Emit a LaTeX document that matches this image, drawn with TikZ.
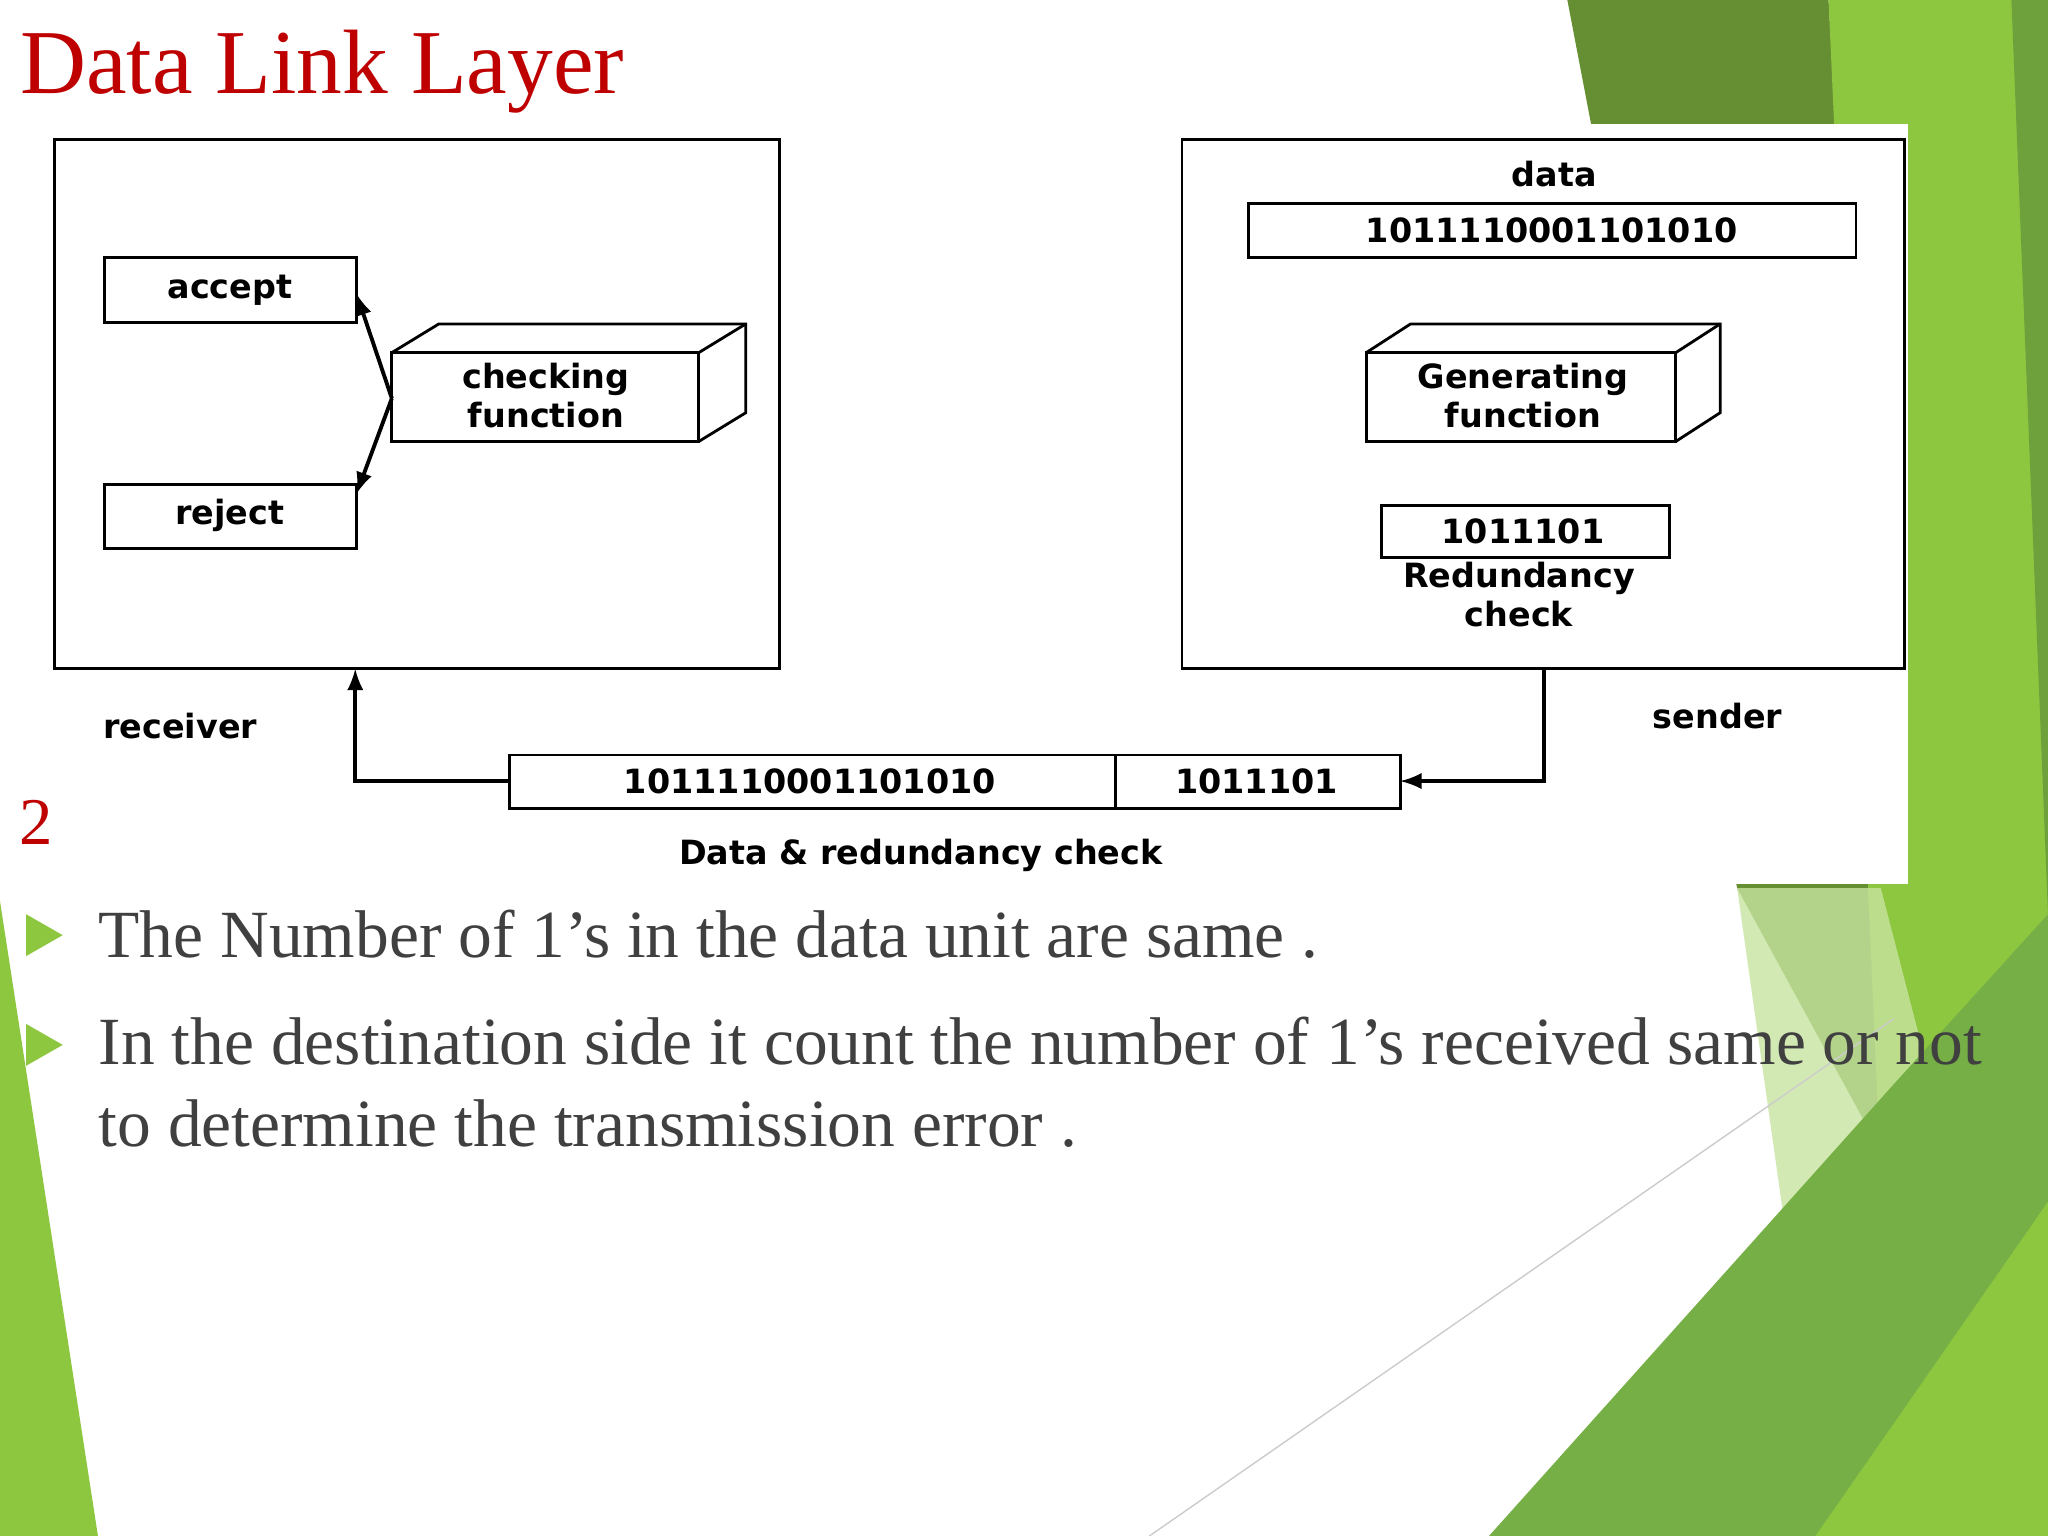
\documentclass[tikz,border=0pt]{standalone}
\usepackage{fontspec}
\setmainfont{Liberation Serif}
\newfontfamily\dfont{DejaVu Sans}
\begin{document}
\begin{tikzpicture}[x=0.013061cm,y=-0.013061cm,
  bx/.style={draw=black,line width=0.8pt},
  dt/.style={font=\dfont\bfseries\fontsize{9.5}{11}\selectfont,inner sep=0pt,align=center},
  arr/.style={line width=1.1pt,-latex}]
\useasboundingbox (0,0) rectangle (1568,1176);
\fill[white] (0,0) rectangle (1568,1176);
% green decorations
\fill[green!40!black!50!olive!80] (1200,0) -- (1400,0) -- (1450,900) -- (1330,680) -- cycle;
\fill[color={rgb,255:red,141;green,198;blue,63}] (1400,0) -- (1540,0) -- (1568,0) -- (1568,1176) -- (1450,1176) -- (1440,900) -- cycle;
\fill[color={rgb,255:red,110;green,160;blue,60}] (1540,0) -- (1568,0) -- (1568,700) -- cycle;
\fill[color={rgb,255:red,200;green,228;blue,160},opacity=0.8] (1330,680) -- (1440,680) -- (1510,950) -- (1420,1176) -- (1400,1176) -- cycle;
\fill[color={rgb,255:red,118;green,175;blue,70}] (1140,1176) -- (1450,830) -- (1568,700) -- (1568,1176) -- cycle;
\fill[color={rgb,255:red,141;green,198;blue,63}] (1390,1176) -- (1568,920) -- (1568,1176) -- cycle;
\fill[color={rgb,255:red,141;green,198;blue,63}] (0,690) -- (75,1176) -- (0,1176) -- cycle;
\draw[gray!40,line width=0.4pt] (880,1176) -- (1450,780);
% white diagram area
\fill[white] (0,95) rectangle (1461,677);
% title
\node[anchor=west,inner sep=0pt,text=red!75!black,font=\fontsize{26}{28}\selectfont] (title) at (15,55) {Data Link Layer};
\node[inner sep=0pt,text=red!75!black,font=\fontsize{19}{21}\selectfont] (num) at (28,630) {2};
% receiver
\draw[bx] (42,107) rectangle (597,512);
\draw[bx] (80,197) rectangle (273,247);
\node[dt] (acct) at (176,222) {accept};
\draw[bx] (80,371) rectangle (273,420);
\node[dt] (rejt) at (176,395) {reject};
\coordinate (accR) at (273,225); \coordinate (rejR) at (273,378);
\draw[bx] (300,270) rectangle (535,338);
\draw[bx] (300,270) -- (336,248) -- (571,248) -- (571,316) -- (535,338);
\draw[bx] (535,270) -- (571,248);
\node[dt] (chk) at (418,303) {checking\\function};
\coordinate (chkL) at (300,305);
\draw[arr] (chkL) -- (accR);
\draw[arr] (chkL) -- (rejR);
\node[dt] (recv) at (138,556) {receiver};
% sender
\draw[bx] (905,107) rectangle (1458,512);
\node[dt] (data) at (1190,133) {data};
\draw[bx] (956,156) rectangle (1421,197);
\node[dt] (databits) at (1188,176) {1011110001101010};
\draw[bx] (1046,270) rectangle (1283,338);
\draw[bx] (1046,270) -- (1080,248) -- (1317,248) -- (1317,316) -- (1283,338);
\draw[bx] (1283,270) -- (1317,248);
\node[dt] (gen) at (1166,303) {Generating\\function};
\draw[bx] (1058,387) rectangle (1278,427);
\node[dt] (rc) at (1166,407) {1011101};
\node[dt] (rclab) at (1163,455) {Redundancy\\check};
\node[dt] (send) at (1315,548) {sender};
% transmitted frame
\draw[bx] (390,578) rectangle (854,619);
\draw[bx] (854,578) rectangle (1072,619);
\node[dt] (fd) at (620,598) {1011110001101010};
\node[dt] (fr) at (962,598) {1011101};
\node[dt] (frl) at (705,655) {Data \& redundancy check};
\coordinate (sb) at (1182,512); \coordinate (fR) at (1072,598);
\coordinate (fL) at (390,598); \coordinate (rb) at (272,512);
\draw[arr] (sb) |- (fR);
\draw[arr] (fL) -| (rb);
% bullets
\fill[color={rgb,255:red,141;green,198;blue,63}] (20,700) -- (48,716) -- (20,732) -- cycle;
\fill[color={rgb,255:red,141;green,198;blue,63}] (20,784) -- (48,800) -- (20,816) -- cycle;
\node[anchor=west,inner sep=0pt,text=black!75,font=\fontsize{19.2}{24}\selectfont] (b1) at (75,715) {The Number of 1’s in the data unit are same .};
\node[anchor=north west,inner sep=0pt,text=black!75,align=left,font=\fontsize{19.2}{23.5}\selectfont] (b2) at (75,778) {In the destination side it count the number of 1’s received same or not\\to determine the transmission error .};
\end{tikzpicture}
\end{document}
